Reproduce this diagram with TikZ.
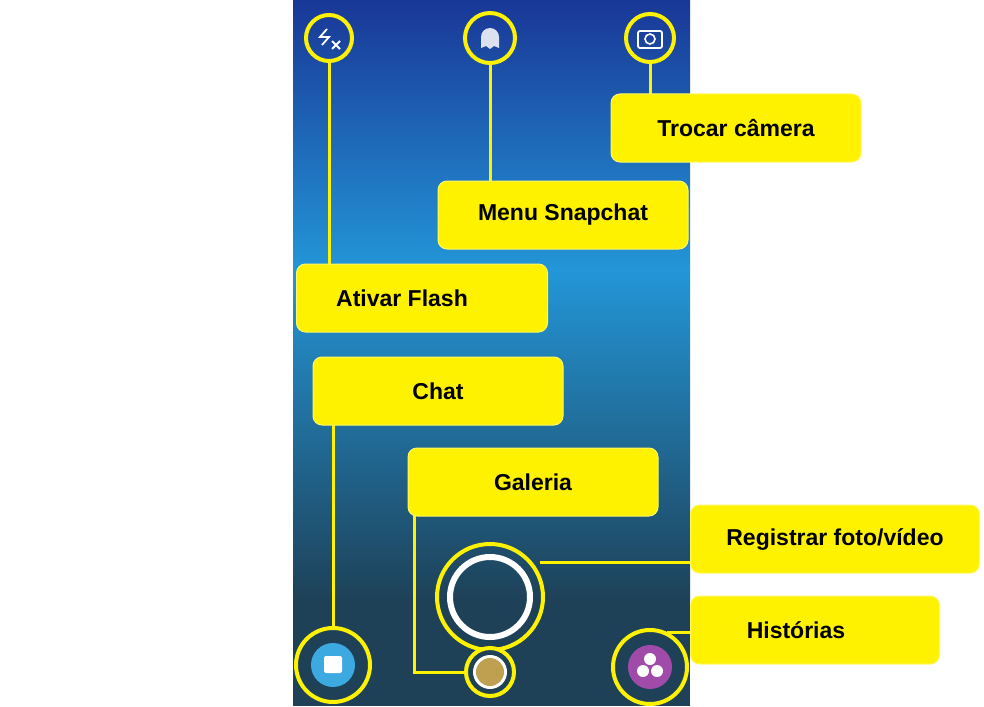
\documentclass[tikz,border=0pt]{standalone}
\usepackage{fontspec}
\setmainfont{Liberation Sans}
\definecolor{bot}{RGB}{30,65,88}
\definecolor{topc}{RGB}{25,55,150}
\definecolor{midc}{RGB}{35,150,215}
\definecolor{chatc}{RGB}{60,170,225}
\definecolor{galc}{RGB}{190,160,80}
\definecolor{purc}{RGB}{160,75,170}
\definecolor{ghc}{RGB}{220,225,240}
\begin{document}
\begin{tikzpicture}[x=1pt,y=-1pt,
  ring/.style={draw=yellow,line width=4pt},
  lead/.style={draw=yellow,line width=3pt},
  lab/.style={fill=yellow,draw=yellow!60!white,line width=1pt,rounded corners=9pt,minimum height=68pt,font=\bfseries\fontsize{23}{27}\selectfont,inner sep=0pt}]
\useasboundingbox (0,0) rectangle (984,706);
\fill[white] (0,0) rectangle (984,706);
\shade[top color=topc,bottom color=midc] (293,0) rectangle (690,270);
\shade[top color=midc,bottom color=bot] (293,270) rectangle (690,600);
\fill[bot] (293,600) rectangle (690,706);
% icons
\node[circle,ring,minimum size=46pt] (fl) at (329,38) {};
\draw[white,line width=1.8pt] (327,29) -- (320,37) -- (329,37) -- (322,45);
\draw[white,line width=1.8pt] (332,41) -- (340,49) (340,41) -- (332,49);
\node[circle,ring,minimum size=50pt] (gh) at (490,38) {};
\fill[ghc] (481,48) -- (481,37) arc (180:360:9) -- (499,48) -- (494,46) -- (490,49) -- (486,46) -- cycle;
\node[circle,ring,minimum size=48pt] (cm) at (650,38) {};
\draw[white,line width=1.8pt,rounded corners=2pt] (638,31) rectangle (662,48);
\draw[white,line width=1.6pt] (650,39) circle (5);
\draw[lead] (fl.south) -- (329,264);
\draw[lead] (gh.south) -- (490,182);
\draw[lead] (cm.south) -- (650,94);
\node[circle,ring,minimum size=74pt] (ch) at (333,665) {};
\fill[chatc] (333,665) circle (22);
\fill[white,rounded corners=2pt] (324,656) rectangle (342,673);
\draw[lead] (ch.north) -- (333,425);
\node[circle,ring,minimum size=106pt] (sh) at (490,597) {};
\draw[white,line width=6pt] (490,597) circle (40);
\node[circle,ring,minimum size=48pt,fill=bot] (ga) at (490,672) {};
\fill[white] (490,672) circle (17);
\fill[galc] (490,672) circle (14);
\draw[lead] (ga.west) -- (414,672) -- (414,516);
\draw[lead] (540,562) -- (691,562);
\node[circle,ring,minimum size=74pt] (hi) at (650,667) {};
\fill[purc] (650,667) circle (22);
\fill[white] (650,659) circle (6) (643,671) circle (6) (657,671) circle (6);
\draw[lead] (667,632) -- (691,632);
% labels
\node[lab,minimum width=250pt] (tc) at (736,128) {Trocar câmera};
\node[lab,minimum width=250pt] (ms) at (563,215) {Menu Snapchat};
\node[lab,minimum width=251pt] (af) at (422,298) {\hspace*{-40pt}Ativar Flash};
\node[lab,minimum width=250pt] (ct) at (438,391) {Chat};
\node[lab,minimum width=250pt] (gl) at (533,482) {Galeria};
\node[lab,minimum width=289pt] (rf) at (835,539) {Registrar foto/vídeo};
\node[lab,minimum width=249pt] (hs) at (815,630) {\hspace*{-38pt}Histórias};
\end{tikzpicture}
\end{document}
